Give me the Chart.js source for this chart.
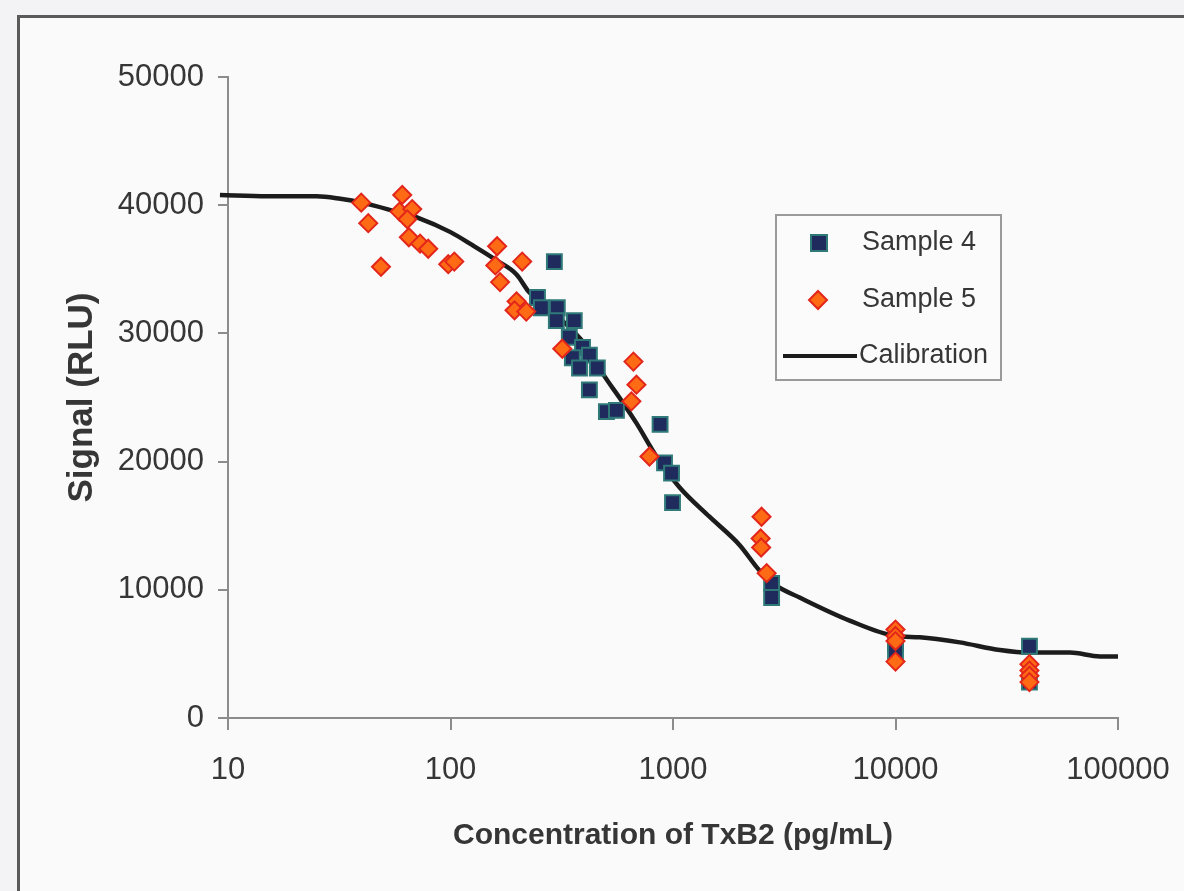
<!DOCTYPE html>
<html>
<head>
<meta charset="utf-8">
<script src="https://cdn.jsdelivr.net/npm/chart.js@4.4.1/dist/chart.umd.min.js"></script>
<style>
  html, body { margin: 0; padding: 0; background: #f3f3f5; }
  #frame {
    position: absolute; left: 17px; top: 15px; right: -10px; bottom: -10px;
    background: #fafafa; border-left: 3px solid #5a5a5a; border-top: 3px solid #5a5a5a;
  }
  #chart { position: absolute; left: 0; top: 0; }
</style>
</head>
<body>
<div id="frame"></div>
<canvas id="chart" width="1184" height="891"></canvas>
<script>
// values
const xTicks = [10, 100, 1000, 10000, 100000];

const sample4X = [293, 246, 256, 302, 299, 360, 342, 392, 421, 353, 380, 457, 421, 502, 557, 875, 916, 985, 995, 2775, 2775, 10000, 10000, 40000, 40000];
const sample4Y = [35600, 32800, 32000, 32000, 31000, 31000, 29700, 28900, 28300, 28100, 27300, 27300, 25600, 23900, 24000, 22900, 19900, 19100, 16800, 10500, 9400, 5800, 5200, 5600, 2800];

const sample5X = [39.7, 42.7, 48.7, 60.7, 59, 67.3, 64, 65, 73, 79.4, 97.7, 104, 162, 159, 167, 210, 198, 194, 219, 318, 664, 685, 650, 784, 2500, 2477, 2490, 2636, 10000, 10000, 10000, 10000, 40000, 40000, 40000, 40000];
const sample5Y = [40200, 38600, 35200, 40800, 39500, 39700, 38900, 37500, 37000, 36600, 35400, 35600, 36800, 35300, 34000, 35600, 32500, 31800, 31700, 28800, 27800, 26000, 24700, 20400, 15700, 14000, 13300, 11300, 6900, 6400, 6000, 4400, 4200, 3700, 3300, 2800];

// the curve starts a little left of the y axis in the original
const calibX = [9.2, 15, 25, 32, 40, 57, 72, 100, 125, 161, 198, 226, 318, 421, 482, 574, 685, 843, 1069, 1459, 1990, 2449, 2863, 3707, 6220, 10000, 12860, 19450, 29440, 40200, 60800, 83000, 100000];
const calibY = [40800, 40700, 40700, 40500, 40200, 39500, 39000, 37900, 36900, 35700, 34600, 33200, 31000, 28700, 26900, 25000, 23000, 20400, 18000, 15700, 13500, 11500, 10400, 9400, 7600, 6400, 6300, 5900, 5300, 5100, 5100, 4800, 4800];

const labels = ["Sample 4", "Sample 5", "Calibration"];

function pairs(xs, ys) {
  return xs.map((x, i) => ({ x: x, y: ys[i] }));
}

const textColor = "#363636";
const axisColor = "#8c8c8c";
const sqFill = "#1e2b5c", sqEdge = "#2f7a78";
const diaFill = "#ff6b14", diaEdge = "#e3261b";

// legend drawn inside the plot, like the original
const boxLegend = {
  id: "boxLegend",
  afterDraw(chart) {
    const ctx = chart.ctx;
    ctx.save();
    ctx.fillStyle = "#fbfbfb";
    ctx.strokeStyle = "#9a9a9a";
    ctx.lineWidth = 2;
    ctx.fillRect(776, 215, 225, 165);
    ctx.strokeRect(776, 215, 225, 165);

    // square
    ctx.fillStyle = sqFill;
    ctx.strokeStyle = sqEdge;
    ctx.fillRect(811, 235, 16, 16);
    ctx.strokeRect(811, 235, 16, 16);
    // diamond
    ctx.beginPath();
    ctx.moveTo(818, 291); ctx.lineTo(827, 300); ctx.lineTo(818, 309); ctx.lineTo(809, 300);
    ctx.closePath();
    ctx.fillStyle = diaFill; ctx.fill();
    ctx.strokeStyle = diaEdge; ctx.stroke();
    // line
    ctx.beginPath();
    ctx.moveTo(783, 356); ctx.lineTo(857, 356);
    ctx.strokeStyle = "#1c1c1c"; ctx.lineWidth = 4; ctx.stroke();

    ctx.fillStyle = textColor;
    ctx.font = "27px 'Liberation Sans', Arial, sans-serif";
    ctx.textBaseline = "middle";
    ctx.fillText(labels[0], 862, 243);
    ctx.fillText(labels[1], 862, 300);
    ctx.fillText(labels[2], 859, 356);
    ctx.restore();
  }
};

new Chart(document.getElementById("chart"), {
  type: "scatter",
  data: {
    datasets: [
      {
        label: labels[0],
        data: pairs(sample4X, sample4Y),
        pointStyle: "rect",
        pointRadius: 10.5,
        pointHoverRadius: 10.5,
        backgroundColor: sqFill,
        borderColor: sqEdge,
        borderWidth: 2,
        order: 2,
      },
      {
        label: labels[1],
        data: pairs(sample5X, sample5Y),
        pointStyle: "rectRot",
        pointRadius: 9,
        pointHoverRadius: 9,
        backgroundColor: diaFill,
        borderColor: diaEdge,
        borderWidth: 2,
        order: 1,
      },
      {
        label: labels[2],
        type: "line",
        data: pairs(calibX, calibY),
        showLine: true,
        pointRadius: 0,
        borderColor: "#1c1c1c",
        borderWidth: 4.5,
        cubicInterpolationMode: "monotone",
        fill: false,
        clip: false,
        order: 3,
      },
    ],
  },
  options: {
    responsive: false,
    animation: false,
    layout: { padding: { left: 0, top: 77, right: 66, bottom: 0 } },
    plugins: {
      legend: { display: false },
      tooltip: { enabled: false },
    },
    scales: {
      x: {
        type: "logarithmic",
        position: "bottom",
        min: 10,
        max: 100000,
        afterBuildTicks: (s) => { s.ticks = xTicks.map((v) => ({ value: v })); },
        afterFit: (s) => {
          s.height = 173;
          s.paddingLeft = 0;
          s.paddingRight = 0;
        },
        ticks: {
          autoSkip: false,
          maxRotation: 0,
          padding: 22,
          color: textColor,
          font: { family: "'Liberation Sans', Arial, sans-serif", size: 31 },
          callback: (v) => String(v),
        },
        grid: { drawOnChartArea: false, tickLength: 12, color: axisColor, lineWidth: 2 },
        border: { display: true, color: axisColor, width: 2 },
        title: {
          display: true,
          text: "Concentration of TxB2 (pg/mL)",
          color: textColor,
          font: { family: "'Liberation Sans', Arial, sans-serif", size: 30, weight: "bold" },
          padding: { top: 0, bottom: 37 },
        },
      },
      y: {
        min: 0,
        max: 50000,
        afterFit: (s) => { s.width = 228; },
        ticks: {
          stepSize: 10000,
          padding: 14,
          color: textColor,
          font: { family: "'Liberation Sans', Arial, sans-serif", size: 31 },
          callback: (v) => String(v),
        },
        grid: { drawOnChartArea: false, tickLength: 10, color: axisColor, lineWidth: 2 },
        border: { display: true, color: axisColor, width: 2 },
        title: {
          display: true,
          text: "Signal (RLU)",
          color: textColor,
          font: { family: "'Liberation Sans', Arial, sans-serif", size: 35, weight: "bold" },
          padding: { top: 61, bottom: 0 },
        },
      },
    },
  },
  plugins: [boxLegend],
});
</script>
</body>
</html>
